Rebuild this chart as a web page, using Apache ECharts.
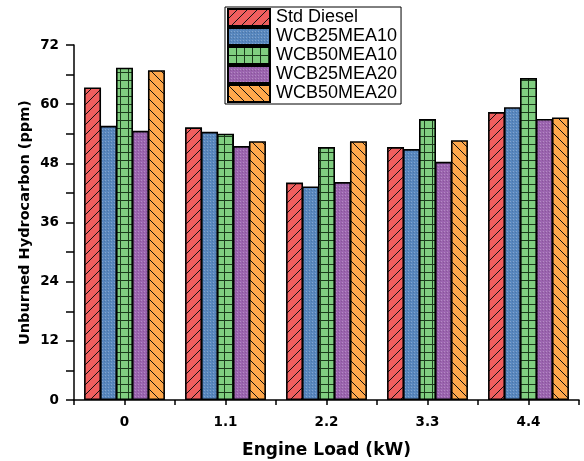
<!DOCTYPE html>
<html>
<head>
<meta charset="utf-8">
<script src="https://cdn.jsdelivr.net/npm/echarts@6/dist/echarts.min.js"></script>
<style>
	html, body { margin: 0; padding: 0; background: #fff; }
	#chart { width: 584px; height: 461px; }
</style>
</head>
<body>
<div id="chart"></div>
<script>
var loads = ['0', '1.1', '2.2', '3.3', '4.4'];
var seriesNames = ['Std Diesel', 'WCB25MEA10', 'WCB50MEA10', 'WCB25MEA20', 'WCB50MEA20'];
var stdDiesel = [63.4, 55.3, 44.1, 51.3, 58.4];
var wcb25mea10 = [55.6, 54.4, 43.3, 50.9, 59.4];
var wcb50mea10 = [67.4, 54.0, 51.3, 57.0, 65.3];
var wcb25mea20 = [54.6, 51.5, 44.2, 48.3, 57.0];
var wcb50mea20 = [66.9, 52.5, 52.5, 52.7, 57.3];
var yTicks = [0, 12, 24, 36, 48, 60, 72];

// fill patterns, drawn on small canvases
function makePattern(kind, bg) {
	var c = document.createElement('canvas');
	var s = kind == 'grid' ? 8 : (kind == 'dots' ? 3 : 10);
	c.width = s; c.height = s;
	var ctx = c.getContext('2d');
	ctx.fillStyle = bg;
	ctx.fillRect(0, 0, s, s);
	ctx.strokeStyle = '#111';
	ctx.lineWidth = 1;
	if (kind == 'slash') {
		ctx.beginPath();
		ctx.moveTo(-1, s + 1); ctx.lineTo(s + 1, -1);
		ctx.moveTo(-1, 1); ctx.lineTo(1, -1);
		ctx.moveTo(s - 1, s + 1); ctx.lineTo(s + 1, s - 1);
		ctx.stroke();
	} else if (kind == 'back') {
		ctx.beginPath();
		ctx.moveTo(-1, -1); ctx.lineTo(s + 1, s + 1);
		ctx.moveTo(s - 1, -1); ctx.lineTo(s + 1, 1);
		ctx.moveTo(-1, s - 1); ctx.lineTo(1, s + 1);
		ctx.stroke();
	} else if (kind == 'grid') {
		ctx.strokeStyle = '#1a3a1a';
		ctx.beginPath();
		ctx.moveTo(0.5, 0); ctx.lineTo(0.5, s);
		ctx.moveTo(0, 0.5); ctx.lineTo(s, 0.5);
		ctx.stroke();
	} else if (kind == 'dots') {
		ctx.fillStyle = 'rgba(255,255,255,0.25)';
		ctx.fillRect(0, 0, 1, 1);
		ctx.fillStyle = 'rgba(0,0,0,0.12)';
		ctx.fillRect(2, 1, 1, 1);
	}
	return { image: c, repeat: 'repeat' };
}

var fills = [
	makePattern('slash', '#F05E5E'),
	makePattern('dots', '#5887BE'),
	makePattern('grid', '#80CE80'),
	makePattern('dots', '#9B64AF'),
	makePattern('back', '#FFA84C')
];
var values = [stdDiesel, wcb25mea10, wcb50mea10, wcb25mea20, wcb50mea20];

var series = [];
for (var i = 0; i < seriesNames.length; i++) {
	series.push({
		name: seriesNames[i],
		type: 'bar',
		xAxisIndex: 0,
		barWidth: 17,
		barGap: '-6%',
		itemStyle: { color: fills[i], borderColor: '#000', borderWidth: 1.6 },
		data: values[i]
	});
}

var boldFont = 'DejaVu Sans';
var chart = echarts.init(document.getElementById('chart'));
var option = {
	animation: false,
	textStyle: { fontFamily: 'Liberation Sans, Arial, sans-serif', color: '#000' },
	grid: { left: 74, right: 5, top: 45, bottom: 61, outerBoundsMode: 'none', containLabel: false },
	legend: {
		orient: 'vertical',
		left: 225,
		top: 7,
		padding: [1, 4, 1, 2],
		itemGap: 0,
		itemWidth: 42,
		itemHeight: 17,
		icon: 'rect',
		backgroundColor: '#fff',
		borderColor: '#000',
		borderWidth: 1,
		textStyle: { fontSize: 18, lineHeight: 18, color: '#000', padding: [0, 0, 0, 1] },
		data: seriesNames
	},
	xAxis: [
		{
			type: 'category',
			data: loads,
			name: 'Engine Load (kW)',
			nameLocation: 'middle',
			nameGap: 42,
			nameTextStyle: { fontFamily: boldFont, fontSize: 17, fontWeight: 'bold', color: '#000' },
			axisLine: { lineStyle: { color: '#000', width: 1.5 } },
			axisTick: { show: true, length: 5, lineStyle: { color: '#000', width: 1.5 } },
			axisLabel: { fontFamily: boldFont, fontSize: 13.5, fontWeight: 'bold', color: '#000', margin: 15 }
		},
		{
			type: 'category',
			data: loads,
			position: 'bottom',
			axisLine: { show: false },
			axisTick: { show: true, alignWithLabel: true, length: 5, lineStyle: { color: '#000', width: 1.5 } },
			axisLabel: { show: false }
		}
	],
	yAxis: {
		type: 'value',
		min: 0,
		max: 72,
		interval: 6,
		name: 'Unburned Hydrocarbon (ppm)',
		nameLocation: 'middle',
		nameGap: 41,
		nameMoveOverlap: false,
		nameTextStyle: { fontFamily: boldFont, fontSize: 14.5, fontWeight: 'bold', color: '#000' },
		axisLine: { show: true, lineStyle: { color: '#000', width: 1.5 } },
		axisTick: { show: true, length: 8, lineStyle: { color: '#000', width: 1.5 } },
		axisLabel: {
			fontFamily: boldFont, fontSize: 13.5, fontWeight: 'bold', color: '#000', margin: 15,
			formatter: function (v) { return yTicks.indexOf(v) >= 0 ? String(v) : ''; }
		},
		splitLine: { show: false }
	},
	series: series
};
chart.setOption(option);
</script>
</body>
</html>
